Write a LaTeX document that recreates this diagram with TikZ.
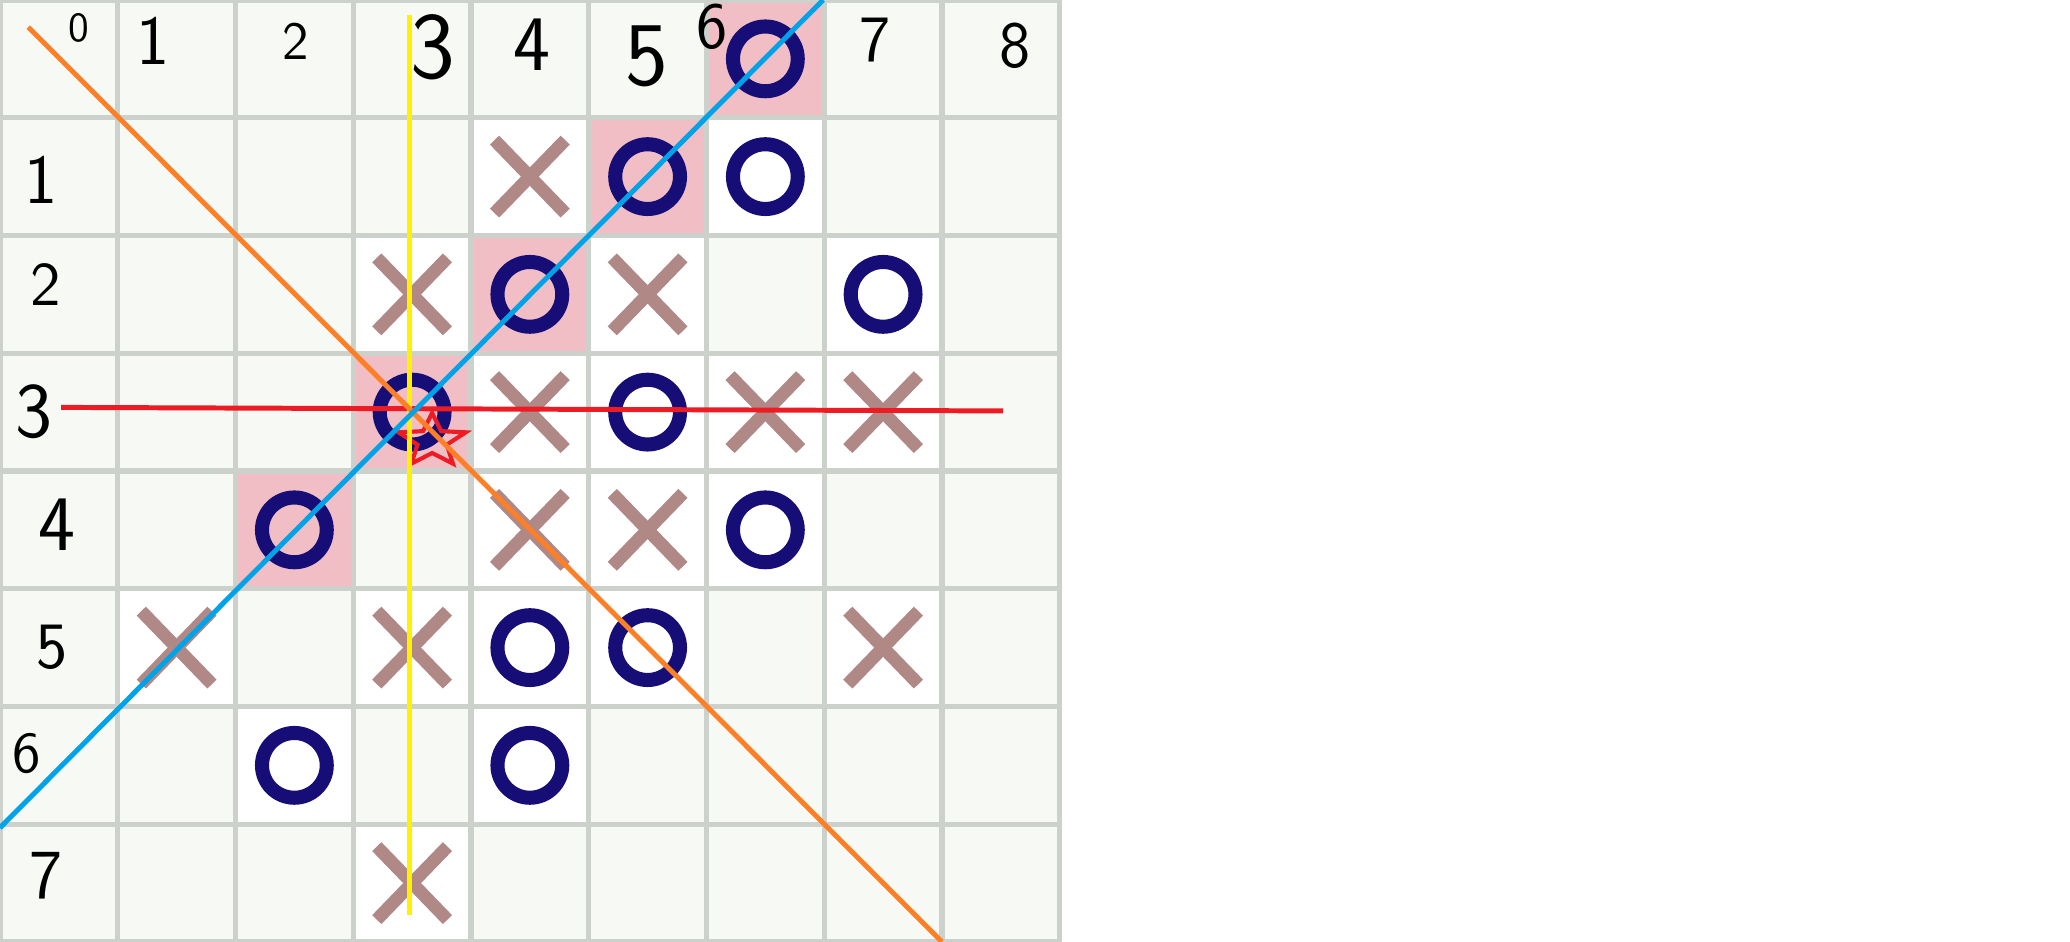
\documentclass[tikz,border=0pt]{standalone}
\usepackage{tikz}
\usetikzlibrary{shapes.misc,shapes.geometric}
\definecolor{board}{RGB}{246,249,244}
\definecolor{gridline}{RGB}{204,209,204}
\definecolor{marked}{RGB}{241,190,198}
\definecolor{crosscol}{RGB}{176,136,134}
\definecolor{ringcol}{RGB}{22,14,118}
\definecolor{paintorange}{RGB}{255,127,39}
\definecolor{paintblue}{RGB}{0,162,232}
\definecolor{paintyellow}{RGB}{255,242,0}
\definecolor{paintred}{RGB}{237,28,36}
\tikzset{xpiece/.style={
    cross out, draw=crosscol, line width=3.1pt,
    minimum width=0.6cm, minimum height=0.62cm,
    inner sep=0pt, outer sep=0pt
  },
  opiece/.style={
    circle, draw=ringcol, line width=3.4pt,
    minimum size=0.55cm, inner sep=0pt
  },
  hand/.style={font=\sffamily\fontsize{#1}{#1}\selectfont, inner sep=0pt},
  hand/.default={17},
  pen/.style={line width=#1},
  pen/.default={1.2pt}
}
\begin{document}
\begin{tikzpicture}
      \useasboundingbox (0,0) rectangle (17.58,-8);
      \fill[white] (0,0) rectangle (17.58,-8);
      \fill[board] (0,0) rectangle (9,-8);
      \foreach \c/\r in {4/1,3/2,5/2,4/3,6/3,7/3,4/4,5/4,1/5,3/5,7/5,3/7,6/1,7/2,5/3,6/4,4/5,5/5,2/6,4/6}
        \fill[white] (\c,-\r) rectangle +(1,-1);
      \foreach \c/\r in {6/0,5/1,4/2,3/3,2/4}
        \fill[marked] (\c,-\r) rectangle +(1,-1);
      \draw[gridline, line width=1.3pt] (0,0) grid (9,-8);
      % pieces
      \foreach \c/\r in {4/1,3/2,5/2,4/3,6/3,7/3,4/4,5/4,1/5,3/5,7/5,3/7}
        \node[xpiece] (x-\c-\r) at (\c+0.5,-\r-0.5) {};
      \foreach \c/\r in {6/0,5/1,6/1,4/2,7/2,3/3,5/3,2/4,6/4,4/5,5/5,2/6,4/6}
        \node[opiece] (o-\c-\r) at (\c+0.5,-\r-0.5) {};
      % column and row numbers
      \node[hand=10] (c0) at (0.67,-0.24) {0};
      \node[hand=17] (c1) at (1.30,-0.35) {1};
      \node[hand=13] (c2) at (2.51,-0.35) {2};
      \node[hand=23] (c3) at (3.68,-0.40) {3};
      \node[hand=19] (c4) at (4.52,-0.38) {4};
      \node[hand=22] (c5) at (5.49,-0.48) {5};
      \node[hand=16] (c6) at (6.05,-0.23) {6};
      \node[hand=16] (c7) at (7.43,-0.34) {7};
      \node[hand=16] (c8) at (8.62,-0.39) {8};
      \node[hand=17] (r1) at (0.35,-1.53) {1};
      \node[hand=15] (r2) at (0.39,-2.42) {2};
      \node[hand=19] (r3) at (0.29,-3.50) {3};
      \node[hand=19] (r4) at (0.48,-4.46) {4};
      \node[hand=16] (r5) at (0.44,-5.50) {5};
      \node[hand=14] (r6) at (0.23,-6.40) {6};
      \node[hand=17] (r7) at (0.39,-7.44) {7};
      % lines through the ring at (3,3)
      \coordinate (red-a) at (0.52,-3.46);
      \coordinate (red-b) at (8.52,-3.49);
      \coordinate (yellow-a) at (3.48,-0.13);
      \coordinate (yellow-b) at (3.48,-7.77);
      \coordinate (orange-a) at (0.24,-0.23);
      \coordinate (orange-b) at (8.0,-8.0);
      \coordinate (blue-a) at (0,-7.03);
      \coordinate (blue-b) at (6.99,0);
      \draw[paintred, pen] (red-a) -- (red-b);
      \node[star, star points=5, star point ratio=2.3, draw=paintred, line width=1pt,
        minimum size=0.6cm, inner sep=0pt, yscale=0.79] (mark) at (3.67,-3.745) {};
      \draw[paintyellow, pen=1.1pt] (yellow-a) -- (yellow-b);
      \draw[paintorange, pen] (orange-a) -- (orange-b);
      \draw[paintblue, pen] (blue-a) -- (blue-b);
    \end{tikzpicture}
\end{document}
